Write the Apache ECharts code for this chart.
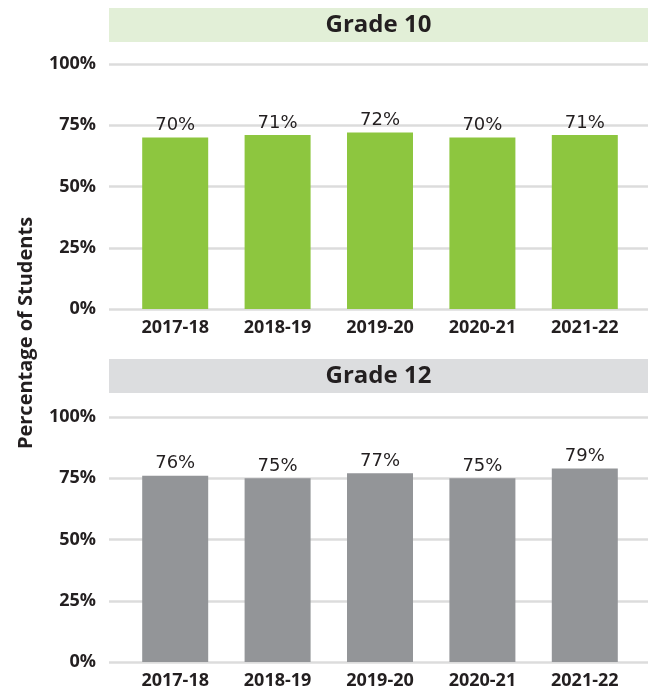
<!DOCTYPE html>
<html>
<head>
<meta charset="utf-8">
<script src="https://cdn.jsdelivr.net/npm/echarts@6/dist/echarts.min.js"></script>
<style>
  html, body { margin: 0; padding: 0; background: #fff; }
  #chart { width: 648px; height: 691px; }
</style>
</head>
<body>
<div id="chart"></div>
<script>
// data
var years = ['2017-18', '2018-19', '2019-20', '2020-21', '2021-22'];
var grade10 = [70, 71, 72, 70, 71];
var grade12 = [76, 75, 77, 75, 79];
var yTicks = [0, 25, 50, 75, 100];

var dark = '#231f20';
var tickFont = { fontFamily: 'Open Sans', fontWeight: 700, fontSize: 18, color: dark };

// two panels, each one grid for lines/ticks and one for bars
var panels = [
  { name: 'Grade 10', values: grade10, color: '#8dc63f', band: '#e2efd7', top: 64, headTop: 8 },
  { name: 'Grade 12', values: grade12, color: '#939598', band: '#dcdddf', top: 417, headTop: 359 }
];
var plotH = 245;

var grids = [], xAxes = [], yAxes = [], series = [], graphics = [];

panels.forEach(function (p, i) {
  var g = i * 2;
  // background grid: full width, gridlines + y labels
  grids.push({ left: 109, right: 0, top: p.top, height: plotH });
  // bar grid
  grids.push({ left: 124, width: 512, top: p.top, height: plotH });

  xAxes.push({ gridIndex: g, type: 'category', data: years, show: false });
  xAxes.push({
    gridIndex: g + 1, type: 'category', data: years,
    axisLine: { show: false }, axisTick: { show: false },
    axisLabel: Object.assign({ margin: 10 }, tickFont)
  });

  yAxes.push({
    gridIndex: g, type: 'value', min: 0, max: 100, interval: 25,
    axisLine: { show: false }, axisTick: { show: false },
    axisLabel: Object.assign({ margin: 13, formatter: function (v) {
      return yTicks.indexOf(v) >= 0 ? v + '%' : '';
    } }, tickFont),
    splitLine: { lineStyle: { color: '#dcdcdc', width: 2.5 } }
  });
  yAxes.push({
    gridIndex: g + 1, type: 'value', min: 0, max: 100, interval: 25, show: false
  });

  series.push({
    type: 'bar', xAxisIndex: g + 1, yAxisIndex: g + 1,
    data: p.values, barWidth: 66,
    itemStyle: { color: p.color },
    label: {
      show: true, position: 'top', distance: 3,
      formatter: '{c}%', fontFamily: 'DejaVu Sans', fontSize: 18, color: dark
    },
    silent: true
  });

  graphics.push({
    type: 'group', left: 109, top: p.headTop,
    children: [
      { type: 'rect', shape: { x: 0, y: 0, width: 539, height: 34 }, style: { fill: p.band } },
      {
        type: 'text', x: 269.5, y: 17,
        style: {
          text: p.name, fill: dark, font: '700 24px "Open Sans"',
          align: 'center', verticalAlign: 'middle'
        }
      }
    ]
  });
});

graphics.push({
  type: 'text', x: 26, y: 333, rotation: Math.PI / 2,
  style: {
    text: 'Percentage of Students', fill: dark, font: '700 20px "Open Sans"',
    align: 'center', verticalAlign: 'middle'
  }
});

var chart = echarts.init(document.getElementById('chart'), null, { renderer: 'canvas' });
chart.setOption({
  animation: false,
  backgroundColor: '#fff',
  grid: grids,
  xAxis: xAxes,
  yAxis: yAxes,
  series: series,
  graphic: graphics
});
</script>
</body>
</html>
